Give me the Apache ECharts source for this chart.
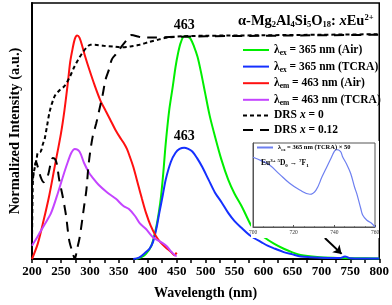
<!DOCTYPE html>
<html><head><meta charset="utf-8">
<script src="https://cdn.jsdelivr.net/npm/echarts@6/dist/echarts.min.js"></script>
<style>html,body{margin:0;padding:0;background:#fff}#c{width:392px;height:305px}</style>
</head><body><div id="c"></div>
<script>
const xTicks = [200,250,300,350,400,450,500,550,600,650,700,750,800];
const insetTicks = [700,720,740,760];

const greenX = [380,390,397,406,414,419,423,427,431,437,443,448,452,457,463,469,474,480,486,492,499,507,516,527,539,550,562,570,579,590,601,618,635,650,664,693,720,760,800];
const greenY = [0,0.008,0.02,0.05,0.117,0.18,0.246,0.34,0.45,0.58,0.67,0.75,0.80,0.845,0.87,0.868,0.86,0.83,0.79,0.73,0.65,0.56,0.48,0.39,0.31,0.255,0.207,0.17,0.13,0.105,0.085,0.06,0.04,0.026,0.016,0.008,0.005,0.003,0.002];

const blueX = [375,385,397,403,409,415,420,426,431,440,448,455,463,470,477,485,494,505,516,528,539,550,562,575,585,596,607,620,635,650,664,680,700,720,732,738,741,745,750,770,800];
const blueY = [0,0.005,0.027,0.04,0.066,0.12,0.18,0.25,0.31,0.38,0.415,0.43,0.435,0.43,0.42,0.395,0.36,0.31,0.26,0.22,0.18,0.148,0.122,0.095,0.08,0.066,0.052,0.04,0.027,0.018,0.01,0.007,0.005,0.004,0.004,0.008,0.01,0.007,0.003,0.002,0.002];

const redX = [200,210,220,230,240,250,256,262,266,270,274,278,282,287,292,299,308,318,327,335,344,352,358,364,369,375,384,390,397,405,414,422,431,440,446,450];
const redY = [0,0.06,0.15,0.25,0.37,0.49,0.58,0.69,0.77,0.82,0.86,0.873,0.865,0.83,0.79,0.74,0.68,0.62,0.58,0.545,0.505,0.475,0.455,0.43,0.40,0.36,0.285,0.235,0.18,0.13,0.09,0.065,0.045,0.028,0.015,0.025];

const magX = [200,205,214,222,233,245,256,262,268,274,282,290,299,304,315,330,345,358,367,378,386,397,409,420,432,440,448,450];
const magY = [0.052,0.07,0.105,0.136,0.18,0.26,0.34,0.38,0.415,0.43,0.42,0.375,0.335,0.32,0.29,0.26,0.235,0.207,0.196,0.168,0.14,0.117,0.085,0.07,0.052,0.03,0.013,0.012];

const drs0X = [200,201,202,205,208,210,215,219,222,226,231,239,248,256,265,273,280,287,294,301,312,324,340,352,370,386,403,420,431,460,500,600,700,800];
const drs0Y = [0.07,0.25,0.32,0.36,0.39,0.415,0.42,0.45,0.47,0.52,0.58,0.635,0.66,0.675,0.71,0.75,0.78,0.805,0.825,0.837,0.836,0.833,0.83,0.827,0.83,0.837,0.848,0.858,0.864,0.87,0.872,0.874,0.876,0.878];

const drs12X = [200,204,207,210,215,220,224,228,232,236,240,243,247,253,259,262,265,270,274,278,282,287,290,294,297,300,305,311,317,322,327,333,338,345,353,360,367,372,385,400,450,500,600,700,800];
const drs12Y = [0.30,0.35,0.38,0.36,0.32,0.30,0.31,0.33,0.37,0.395,0.39,0.37,0.31,0.245,0.167,0.11,0.065,0.027,0.0,0.04,0.08,0.156,0.206,0.27,0.35,0.41,0.48,0.53,0.59,0.64,0.70,0.74,0.78,0.80,0.825,0.845,0.864,0.875,0.868,0.865,0.868,0.87,0.872,0.874,0.876];

const insetX = [700,704,708,713,718,723,728,731,734,736,738,740,741,743,744,746,748,750,751,753,754,756,758,760];
const insetY = [0.83,0.79,0.74,0.63,0.52,0.44,0.39,0.44,0.6,0.7,0.8,0.9,0.92,0.9,0.84,0.75,0.64,0.47,0.40,0.22,0.14,0.08,0.05,0.0];

const peakNm = 463;

const zip = (xs, ys) => xs.map((x, i) => [x, ys[i]]);
const F = 'Liberation Serif';
const peakOf = (xs, ys) => { const i = xs.indexOf(peakNm); return [xs[i], ys[i]]; };

const names = ['g','b','r','m','d0','d12'];
const legendRich = {
  a: {fontFamily: F, fontWeight: 'bold', fontSize: 11.5, color: '#000', lineHeight: 14, verticalAlign: 'middle'},
  s: {fontFamily: F, fontWeight: 'bold', fontSize: 7.5, color: '#000', lineHeight: 14, verticalAlign: 'bottom', padding: [6,0,0,0]},
  i: {fontFamily: F, fontWeight: 'bold', fontStyle: 'italic', fontSize: 11.5, color: '#000', lineHeight: 14}
};
const legendText = {
  g: '{a|λ}{s|ex}{a| = 365 nm (Air)}',
  b: '{a|λ}{s|ex}{a| = 365 nm (TCRA)}',
  r: '{a|λ}{s|em}{a| = 463 nm (Air)}',
  m: '{a|λ}{s|em}{a| = 463 nm (TCRA)}',
  d0: '{a|DRS }{i|x}{a| = 0}',
  d12: '{a|DRS }{i|x}{a| = 0.12}'
};

const lineSeries = (name, xs, ys, color, type, extra) => Object.assign({
  name, type: 'line', data: zip(xs, ys), showSymbol: false, symbol: 'none', smooth: 0.3,
  lineStyle: {color, width: 2, type: type || 'solid'}, itemStyle: {color}, z: 2,
  xAxisIndex: 0, yAxisIndex: 0
}, extra || {});

const peakLabel = (xs, ys) => ({
  symbol: 'circle', symbolSize: 0, silent: true,
  data: [{coord: peakOf(xs, ys), value: peakNm}],
  label: {show: true, position: 'top', distance: 4, formatter: String(peakNm),
          fontFamily: F, fontWeight: 'bold', fontSize: 14, color: '#000'}
});

const chart = echarts.init(document.getElementById('c'), null, {renderer: 'canvas'});
chart.setOption({
  animation: false,
  backgroundColor: '#fff',
  title: {
    text: '{a|α-Mg}{s|2}{a|Al}{s|4}{a|Si}{s|5}{a|O}{s|18}{a|: }{i|x}{a|Eu}{p|2+}',
    left: 233, top: 8,
    textStyle: {rich: {
      a: {fontFamily: F, fontWeight: 'bold', fontSize: 14.5, color: '#000', lineHeight: 16},
      i: {fontFamily: F, fontWeight: 'bold', fontStyle: 'italic', fontSize: 14.5, color: '#000', lineHeight: 16},
      s: {fontFamily: F, fontWeight: 'bold', fontSize: 8.5, color: '#000', lineHeight: 16, verticalAlign: 'bottom', padding: [7,0,0,0]},
      p: {fontFamily: F, fontWeight: 'bold', fontSize: 8.5, color: '#000', lineHeight: 16, verticalAlign: 'top', padding: [0,0,7,0]}
    }}
  },
  legend: [{
    data: names, orient: 'vertical', left: 237, top: 38,
    itemWidth: 26, itemHeight: 14, itemGap: 2.6, itemStyle: {opacity: 0},
    formatter: n => legendText[n], textStyle: {rich: legendRich}, selectedMode: false
  }, {
    data: ['inset'], left: 251, top: 138, itemWidth: 16, itemHeight: 8, itemGap: 0,
    selectedMode: false, itemStyle: {opacity: 0}, z: 70,
    formatter: () => '{a|λ}{s|ex}{a| = 365 nm (TCRA) × 50}',
    textStyle: {rich: {
      a: {fontFamily: F, fontWeight: 'bold', fontSize: 6.5, color: '#000', lineHeight: 9},
      s: {fontFamily: F, fontWeight: 'bold', fontSize: 4.5, color: '#000', lineHeight: 9, verticalAlign: 'bottom', padding: [4,0,0,0]}
    }}
  }],
  grid: [
    {left: 27, right: 11, top: 3, bottom: 45, show: true, borderColor: '#000', borderWidth: 1.5},
    {left: 253, right: 17, top: 143, bottom: 78, show: true, borderColor: '#555', borderWidth: 1, backgroundColor: '#fff', z: 60}
  ],
  xAxis: [{
    type: 'value', min: 200, max: 800, interval: 50, gridIndex: 0,
    name: 'Wavelength (nm)', nameLocation: 'middle', nameGap: 27,
    nameTextStyle: {fontFamily: F, fontWeight: 'bold', fontSize: 14, color: '#000'},
    axisLine: {lineStyle: {color: '#000', width: 2}},
    axisTick: {show: true, length: 4, lineStyle: {color: '#000', width: 1.5}},
    minorTick: {show: true, splitNumber: 2, length: 4, lineStyle: {color: '#000', width: 1.5}},
    splitLine: {show: false},
    axisLabel: {fontFamily: F, fontWeight: 'bold', fontSize: 13, color: '#000', margin: 6,
      formatter: v => xTicks.includes(v) ? String(v) : ''}
  }, {
    type: 'value', min: 700, max: 760, interval: 20, gridIndex: 1, z: 60,
    axisLine: {lineStyle: {color: '#555', width: 1}},
    axisTick: {show: true, inside: true, length: 2, lineStyle: {color: '#555'}},
    minorTick: {show: true, splitNumber: 4, length: 1, lineStyle: {color: '#777'}},
    splitLine: {show: false},
    axisLabel: {fontFamily: F, fontSize: 5.5, color: '#333', margin: 3,
      formatter: v => insetTicks.includes(v) ? String(v) : ''}
  }],
  yAxis: [{
    type: 'value', min: 0, max: 1, gridIndex: 0,
    name: 'Normalized Intensity (a.u.)', nameLocation: 'middle', nameGap: 9,
    nameTextStyle: {fontFamily: F, fontWeight: 'bold', fontSize: 14.5, color: '#000'},
    axisLine: {show: true, lineStyle: {color: '#000', width: 2}},
    axisTick: {show: false}, axisLabel: {show: false}, splitLine: {show: false}
  }, {
    type: 'value', min: 0, max: 1, gridIndex: 1, z: 60,
    axisLine: {show: true, lineStyle: {color: '#555', width: 1}},
    axisTick: {show: false}, axisLabel: {show: false}, splitLine: {show: false}
  }],
  graphic: [
    {type: 'rect', shape: {x: 251, y: 141, width: 128, height: 97}, style: {fill: '#fff'}, z: 55, silent: true},
    {type: 'text', left: 261, top: 158, z: 70, silent: true,
     style: {text: '{a|Eu}{p|3+}{a| }{p|5}{a|D}{s|0}{a| → }{p|7}{a|F}{s|1}',
       rich: {
         a: {fontFamily: F, fontWeight: 'bold', fontSize: 7.5, fill: '#000', lineHeight: 10},
         p: {fontFamily: F, fontWeight: 'bold', fontSize: 5, fill: '#000', lineHeight: 10, verticalAlign: 'top', padding: [0,0,3,0]},
         s: {fontFamily: F, fontWeight: 'bold', fontSize: 5, fill: '#000', lineHeight: 10, verticalAlign: 'bottom', padding: [3,0,0,0]}
       }}}
  ],
  series: [
    lineSeries('g', greenX, greenY, '#00ee00', 'solid', {markPoint: peakLabel(greenX, greenY)}),
    lineSeries('b', blueX, blueY, '#1530ff', 'solid', {
      markPoint: peakLabel(blueX, blueY),
      markLine: {silent: true, symbol: ['none', 'arrow'], symbolSize: 8,
        label: {show: false}, lineStyle: {color: '#000', width: 2, type: 'solid'},
        data: [[{coord: [706, 0.082]}, {coord: [735, 0.02]}]]}
    }),
    lineSeries('r', redX, redY, '#ff1010'),
    lineSeries('m', magX, magY, '#c444ff'),
    lineSeries('d0', drs0X, drs0Y, '#000', [4, 3]),
    lineSeries('d12', drs12X, drs12Y, '#000', [10, 7]),
    {
      name: 'inset', type: 'line', data: zip(insetX, insetY), xAxisIndex: 1, yAxisIndex: 1,
      showSymbol: false, symbol: 'none', smooth: 0.4, z: 65,
      lineStyle: {color: '#6d7ff0', width: 1.2}, itemStyle: {color: '#6d7ff0'},
      markLine: {silent: true, symbol: ['none', 'arrow'], symbolSize: 4,
        label: {show: false}, lineStyle: {color: '#000', width: 1, type: 'solid'},
        data: [[{coord: [729.5, 0.69]}, {coord: [733.4, 0.62]}]]}
    }
  ]
});
</script></body></html>
